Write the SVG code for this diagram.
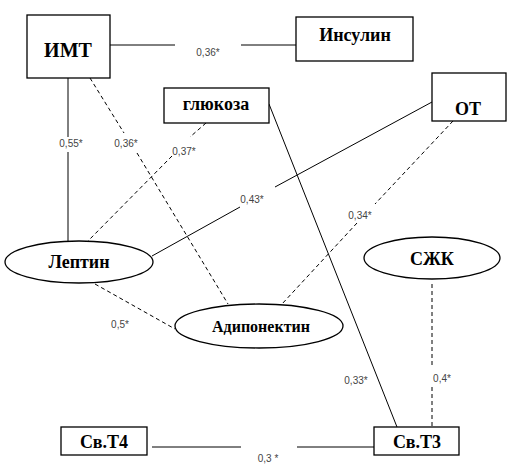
<svg xmlns="http://www.w3.org/2000/svg" width="514" height="465" viewBox="0 0 514 465">
<style>
.box{fill:#fff;stroke:#000;stroke-width:1.3}
.n{font-family:"Liberation Serif","Times New Roman","DejaVu Serif",serif;font-weight:bold;font-size:18px;fill:#000;text-anchor:middle}
.l{font-family:"Liberation Sans",Arial,sans-serif;font-size:10px;fill:#444;text-anchor:middle}
.s{stroke:#000;stroke-width:1;fill:none}
.d{stroke:#000;stroke-width:1;fill:none;stroke-dasharray:4,3}
</style>
<rect width="514" height="465" fill="#fff"/>
<g id="connectors">
<line class="s" x1="110" y1="45" x2="175" y2="45"/>
<line class="s" x1="241" y1="45" x2="296" y2="45"/>
<text class="l" x="208" y="56">0,36*</text>
<line class="s" x1="68" y1="78" x2="68" y2="137"/>
<line class="s" x1="68" y1="152" x2="68" y2="241"/>
<text class="l" x="71" y="147">0,55*</text>
<line class="d" x1="90" y1="78" x2="124" y2="133"/>
<line class="d" x1="137" y1="153" x2="228" y2="304"/>
<text class="l" x="126" y="147">0,36*</text>
<line class="d" x1="206" y1="123" x2="190" y2="137"/>
<line class="d" x1="172" y1="156" x2="88" y2="241"/>
<text class="l" x="184" y="155">0,37*</text>
<line class="s" x1="432" y1="102" x2="275" y2="187"/>
<line class="s" x1="240" y1="207" x2="152" y2="256"/>
<text class="l" x="252" y="203">0,43*</text>
<line class="d" x1="453" y1="121" x2="375" y2="204"/>
<line class="d" x1="357" y1="223" x2="282" y2="304"/>
<text class="l" x="360" y="219">0,34*</text>
<line class="s" x1="269" y1="104" x2="397" y2="427"/>
<text class="l" x="356" y="384">0,33*</text>
<line class="d" x1="432" y1="284" x2="432" y2="368"/>
<line class="d" x1="432" y1="387" x2="432" y2="427"/>
<text class="l" x="442" y="382">0,4*</text>
<line class="d" x1="95" y1="284" x2="175" y2="329"/>
<text class="l" x="120" y="328">0,5*</text>
<line class="s" x1="152" y1="447" x2="241" y2="447"/>
<line class="s" x1="297" y1="447" x2="374" y2="447"/>
<text class="l" x="268" y="462">0,3 *</text>
</g>
<g id="imt"><rect class="box" x="27" y="15" width="83" height="63"/><text class="n" x="68" y="57" font-family="Liberation Serif, serif" style="font-size:20px">ИМТ</text></g>
<g id="insulin"><rect class="box" x="296" y="17" width="117" height="44"/><text class="n" x="355" y="41">Инсулин</text></g>
<g id="glucose"><rect class="box" x="164" y="88" width="105" height="35"/><text class="n" x="216" y="110">глюкоза</text></g>
<g id="ot"><rect class="box" x="432" y="73" width="74" height="48"/><text class="n" x="468" y="115">ОТ</text></g>
<g id="leptin"><ellipse class="box" cx="79" cy="262" rx="74" ry="21"/><text class="n" x="79" y="268">Лептин</text></g>
<g id="adiponectin"><ellipse class="box" cx="259" cy="326" rx="84" ry="22"/><text class="n" x="261" y="332" style="font-size:16px">Адипонектин</text></g>
<g id="szhk"><ellipse class="box" cx="432" cy="258" rx="68" ry="21"/><text class="n" x="432" y="265">СЖК</text></g>
<g id="t4"><rect class="box" x="61" y="427" width="86" height="28"/><text class="n" x="104" y="448">Св.Т4</text></g>
<g id="t3"><rect class="box" x="374" y="427" width="85" height="28"/><text class="n" x="417" y="448">Св.Т3</text></g>
</svg>
